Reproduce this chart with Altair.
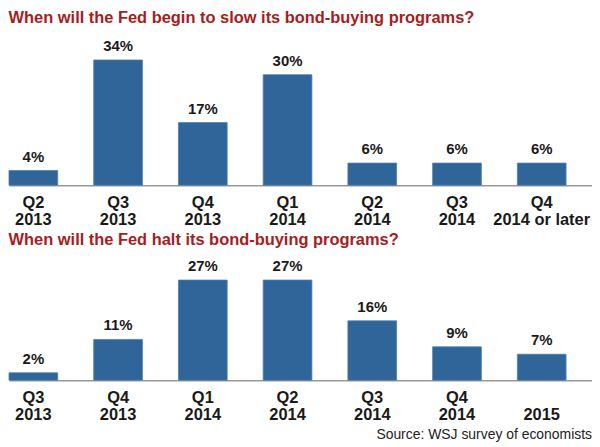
import altair as alt
import pandas as pd

FONT = "Liberation Sans"

slow_title = "When will the Fed begin to slow its bond-buying programs?"
slow_periods = ["Q2|2013", "Q3|2013", "Q4|2013", "Q1|2014", "Q2|2014", "Q3|2014", "Q4|2014 or later"]
slow_values = [4, 34, 17, 30, 6, 6, 6]

halt_title = "When will the Fed halt its bond-buying programs?"
halt_periods = ["Q3|2013", "Q4|2013", "Q1|2014", "Q2|2014", "Q3|2014", "Q4|2014", "|2015"]
halt_values = [2, 11, 27, 27, 16, 9, 7]

source_text = "Source: WSJ survey of economists"


def panel(periods, values, title, ymax, height):
    df = pd.DataFrame({"period": periods, "pct": values})
    df["label"] = df["pct"].astype(str) + "%"
    base = alt.Chart(df).encode(
        x=alt.X(
            "period:N",
            sort=periods,
            scale=alt.Scale(paddingInner=0.425, paddingOuter=0.153, align=0),
            axis=alt.Axis(
                title=None,
                labelAngle=0,
                labelExpr="split(datum.value, '|')",
                ticks=False,
                domainColor="#9a9a9a",
                domainWidth=1.5,
                labelFont=FONT,
                labelFontSize=16.5,
                labelFontWeight="bold",
                labelColor="#1a1a1a",
                labelPadding=9,
                labelLineHeight=17.5,
                labelOverlap=False,
            ),
        ),
        y=alt.Y("pct:Q", scale=alt.Scale(domain=[0, ymax]), axis=None),
    )
    bars = base.mark_bar(color="#2f6598", stroke="#4f7fae", strokeWidth=0.8)
    text = base.mark_text(
        baseline="bottom", dy=-6, fontSize=15, fontWeight="bold", font=FONT, color="#1a1a1a"
    ).encode(text="label:N")
    return alt.layer(bars, text).properties(
        width=586,
        height=height,
        title=alt.TitleParams(
            title,
            anchor="start",
            font=FONT,
            fontSize=16.5,
            fontWeight="bold",
            color="#a51d22",
            offset=6,
        ),
    )


top = panel(slow_periods, slow_values, slow_title, 41.6, 154)
bottom = panel(halt_periods, halt_values, halt_title, 33.8, 126)

chart = (
    alt.vconcat(top, bottom, spacing=4)
    .properties(
        padding=0,
        title=alt.TitleParams(
            source_text,
            orient="bottom",
            anchor="end",
            font=FONT,
            fontSize=14,
            fontWeight="normal",
            color="#222222",
            offset=5,
        ),
    )
    .configure(background="white")
    .configure_view(stroke=None, strokeWidth=0)
)

chart.save("out.html", embed_options={"renderer": "svg", "actions": False})
